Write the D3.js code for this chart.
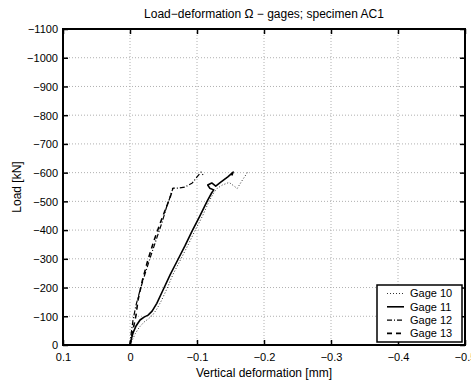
<!DOCTYPE html>
<html>
<head>
<meta charset="utf-8">
<script src="https://cdn.jsdelivr.net/npm/d3@7"></script>
<style>
  html, body { margin: 0; padding: 0; background: #fff; }
  svg { display: block; font-family: "Liberation Sans", Arial, Helvetica, sans-serif; }
</style>
</head>
<body>
<svg id="chart" width="471" height="382"></svg>
<script>
// Axis ranges and tick values
const xTicks = [0.1, 0, -0.1, -0.2, -0.3, -0.4, -0.5];
const xTickLabels = ["0.1", "0", "\u22120.1", "\u22120.2", "\u22120.3", "\u22120.4", "\u22120.5"];
const yTicks = [0, -100, -200, -300, -400, -500, -600, -700, -800, -900, -1000, -1100];
const yTickLabels = ["0", "\u2212100", "\u2212200", "\u2212300", "\u2212400", "\u2212500", "\u2212600", "\u2212700", "\u2212800", "\u2212900", "\u22121000", "\u22121100"];

const seriesNames = ["Gage 10", "Gage 11", "Gage 12", "Gage 13"];

// Gage readings: vertical deformation [mm] and load [kN]
const gage10Def = [0, -0.003, -0.008, -0.014, -0.021, -0.028, -0.034, -0.040, -0.047, -0.055, -0.064, -0.075, -0.086, -0.097, -0.108, -0.118, -0.125, -0.130, -0.138, -0.148, -0.156, -0.160, -0.168, -0.176];
const gage10Load = [0, -15, -40, -62, -80, -92, -105, -125, -155, -195, -245, -295, -345, -398, -448, -500, -530, -545, -557, -566, -552, -545, -575, -603];

const gage11Def = [0, -0.0015, -0.0045, -0.009, -0.015, -0.021, -0.027, -0.033, -0.040, -0.050, -0.060, -0.071, -0.082, -0.093, -0.104, -0.115, -0.122, -0.125, -0.119, -0.116, -0.122, -0.128, -0.134, -0.146, -0.154, -0.152];
const gage11Load = [0, -17, -42, -66, -87, -97, -104, -118, -145, -195, -245, -295, -345, -398, -448, -500, -530, -540, -546, -557, -564, -553, -564, -585, -602, -590];

const gage12Def = [0, -0.0015, -0.0045, -0.009, -0.015, -0.022, -0.030, -0.039, -0.048, -0.055, -0.061, -0.064, -0.072, -0.082, -0.093, -0.101, -0.106, -0.109];
const gage12Load = [0, -35, -87, -139, -191, -244, -303, -366, -428, -484, -522, -546, -546, -550, -564, -588, -602, -592];

const gage13Def = [0, -0.003, -0.006, -0.009, -0.012, -0.018, -0.026, -0.036, -0.046, -0.055, -0.061, -0.064];
const gage13Load = [0, -35, -70, -104, -157, -220, -290, -365, -430, -484, -522, -546];

const margin = { left: 63, right: 6, top: 29, bottom: 37 };
const W = 471, H = 382;
const pw = W - margin.left - margin.right;
const ph = H - margin.top - margin.bottom;

const svg = d3.select("#chart");
const g = svg.append("g").attr("transform", `translate(${margin.left},${margin.top})`);

const x = d3.scaleLinear().domain([0.1, -0.5]).range([0, pw]);
const y = d3.scaleLinear().domain([0, -1100]).range([ph, 0]);

// Dotted grid
g.append("g").selectAll("line").data(xTicks.slice(1, -1)).join("line")
  .attr("x1", d => x(d)).attr("x2", d => x(d)).attr("y1", 0).attr("y2", ph)
  .attr("stroke", "#b0b0b0").attr("stroke-width", 1).attr("stroke-dasharray", "1,2");
g.append("g").selectAll("line").data(yTicks.slice(1, -1)).join("line")
  .attr("x1", 0).attr("x2", pw).attr("y1", d => y(d)).attr("y2", d => y(d))
  .attr("stroke", "#b0b0b0").attr("stroke-width", 1).attr("stroke-dasharray", "1,2");

// Axes with inward ticks on all four sides
const fmtX = d => xTickLabels[xTicks.indexOf(d)];
const fmtY = d => yTickLabels[yTicks.indexOf(d)];

const axB = g.append("g").attr("transform", `translate(0,${ph})`)
  .call(d3.axisBottom(x).tickValues(xTicks).tickFormat(fmtX).tickSizeInner(-5).tickSizeOuter(0).tickPadding(8));
const axT = g.append("g")
  .call(d3.axisTop(x).tickValues(xTicks).tickFormat("").tickSizeInner(-5).tickSizeOuter(0));
const axL = g.append("g")
  .call(d3.axisLeft(y).tickValues(yTicks).tickFormat(fmtY).tickSizeInner(-5).tickSizeOuter(0).tickPadding(5));
const axR = g.append("g").attr("transform", `translate(${pw},0)`)
  .call(d3.axisRight(y).tickValues(yTicks).tickFormat("").tickSizeInner(-5).tickSizeOuter(0));

[axB, axT, axL, axR].forEach(a => {
  a.select(".domain").remove();
  a.selectAll(".tick line").attr("stroke", "#000").attr("stroke-width", 1.5);
  a.selectAll("text").attr("fill", "#000").style("font-size", "11px");
});
axL.selectAll("text").attr("dy", "0.35em");

// Frame
g.append("rect").attr("x", 0).attr("y", 0).attr("width", pw).attr("height", ph)
  .attr("fill", "none").attr("stroke", "#000").attr("stroke-width", 2);

// Curves
const line = d3.line().x(d => x(d[0])).y(d => y(d[1]));
const zipDef = (a, b) => a.map((v, i) => [v, b[i]]);

const styles = [
  { dash: "1,2", width: 1, color: "#333" },
  { dash: null, width: 1.6, color: "#000" },
  { dash: "5,2,1,2", width: 1.2, color: "#000" },
  { dash: "5,4", width: 1.6, color: "#000" }
];
const data = [
  zipDef(gage10Def, gage10Load),
  zipDef(gage11Def, gage11Load),
  zipDef(gage12Def, gage12Load),
  zipDef(gage13Def, gage13Load)
];
data.forEach((d, i) => {
  g.append("path").datum(d).attr("d", line)
    .attr("fill", "none").attr("stroke", styles[i].color)
    .attr("stroke-width", styles[i].width)
    .attr("stroke-dasharray", styles[i].dash)
    .attr("stroke-linejoin", "round");
});

// Legend
const lg = svg.append("g").attr("transform", "translate(377,285)");
lg.append("rect").attr("x", 0).attr("y", 0).attr("width", 85).attr("height", 57)
  .attr("fill", "#fff").attr("stroke", "#000").attr("stroke-width", 1.5);
seriesNames.forEach((name, i) => {
  const yy = 8.5 + i * 13.3;
  lg.append("line").attr("x1", 10).attr("x2", 27).attr("y1", yy).attr("y2", yy)
    .attr("stroke", styles[i].color).attr("stroke-width", styles[i].width)
    .attr("stroke-dasharray", styles[i].dash);
  lg.append("text").attr("x", 33).attr("y", yy).attr("dy", "0.36em")
    .style("font-size", "11px").text(name);
});

// Title and axis labels
svg.append("text").attr("x", margin.left + pw / 2).attr("y", 18)
  .attr("text-anchor", "middle").style("font-size", "12px")
  .text("Load\u2212deformation \u03A9 \u2212 gages; specimen AC1");
svg.append("text").attr("x", margin.left + pw / 2).attr("y", 377)
  .attr("text-anchor", "middle").style("font-size", "12px")
  .text("Vertical deformation [mm]");
svg.append("text").attr("transform", `translate(21,${margin.top + ph / 2}) rotate(-90)`)
  .attr("text-anchor", "middle").style("font-size", "12px")
  .text("Load [kN]");
</script>
</body>
</html>
